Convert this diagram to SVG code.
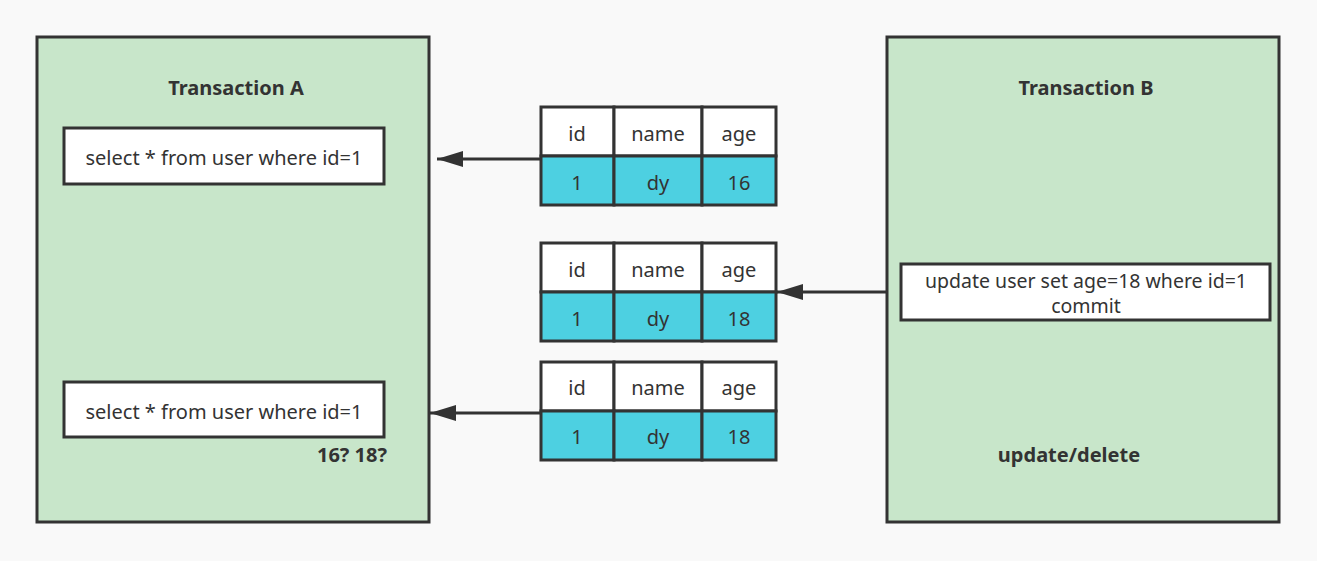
<svg xmlns="http://www.w3.org/2000/svg" width="1317" height="561" viewBox="0 0 1317 561">
<style>
.txn{fill:#c8e6ca;stroke:#333;stroke-width:3}
.box{fill:#fff;stroke:#333;stroke-width:3}
.hd{fill:#fff;stroke:#333;stroke-width:3}
.dt{fill:#4dd0e1;stroke:#333;stroke-width:3}
text{font-family:"Noto Sans","Open Sans",sans-serif;font-size:20px;fill:#333;text-anchor:middle;dominant-baseline:central}
.b{font-weight:bold}
.s{font-size:19.5px}
.conn{stroke:#333;stroke-width:3;fill:none}
</style>
<defs>
<marker id="ah" viewBox="0 0 26 16" refX="26" refY="8" markerWidth="26" markerHeight="16" markerUnits="userSpaceOnUse" orient="auto">
<path d="M0,0 L26,8 L0,16 Z" fill="#333"/>
</marker>
</defs>
<rect width="1317" height="561" fill="#f9f9f9"/>
<g id="txnA">
<rect class="txn" x="37" y="37" width="392" height="485"/>
<text class="b" x="236" y="87">Transaction A</text>
<rect class="box" x="64" y="128" width="320" height="56"/>
<text x="224" y="157">select * from user where id=1</text>
<rect class="box" x="64" y="382" width="320" height="55"/>
<text x="224" y="411">select * from user where id=1</text>
<text class="b" x="352" y="454">16? 18?</text>
</g>
<g id="txnB">
<rect class="txn" x="887" y="37" width="392" height="485"/>
<text class="b" x="1086" y="87">Transaction B</text>
<rect class="box" x="901" y="264" width="369" height="56"/>
<text class="s" x="1086" y="280">update user set age=18 where id=1</text>
<text class="s" x="1086" y="305">commit</text>
<text class="b" x="1069" y="454">update/delete</text>
</g>
<g id="table1">
<rect class="hd" x="541" y="107" width="73" height="49"/>
<rect class="hd" x="614" y="107" width="88" height="49"/>
<rect class="hd" x="702" y="107" width="74" height="49"/>
<rect class="dt" x="541" y="156" width="73" height="49"/>
<rect class="dt" x="614" y="156" width="88" height="49"/>
<rect class="dt" x="702" y="156" width="74" height="49"/>
<text x="577" y="133">id</text><text x="658" y="133">name</text><text x="739" y="133">age</text>
<text x="577" y="182">1</text><text x="658" y="182">dy</text><text x="739" y="182">16</text>
</g>
<g id="table2">
<rect class="hd" x="541" y="243" width="73" height="49"/>
<rect class="hd" x="614" y="243" width="88" height="49"/>
<rect class="hd" x="702" y="243" width="74" height="49"/>
<rect class="dt" x="541" y="292" width="73" height="49"/>
<rect class="dt" x="614" y="292" width="88" height="49"/>
<rect class="dt" x="702" y="292" width="74" height="49"/>
<text x="577" y="269">id</text><text x="658" y="269">name</text><text x="739" y="269">age</text>
<text x="577" y="318">1</text><text x="658" y="318">dy</text><text x="739" y="318">18</text>
</g>
<g id="table3">
<rect class="hd" x="541" y="362" width="73" height="49"/>
<rect class="hd" x="614" y="362" width="88" height="49"/>
<rect class="hd" x="702" y="362" width="74" height="49"/>
<rect class="dt" x="541" y="411" width="73" height="49"/>
<rect class="dt" x="614" y="411" width="88" height="49"/>
<rect class="dt" x="702" y="411" width="74" height="49"/>
<text x="577" y="387">id</text><text x="658" y="387">name</text><text x="739" y="387">age</text>
<text x="577" y="436">1</text><text x="658" y="436">dy</text><text x="739" y="436">18</text>
</g>
<g id="connectors">
<line class="conn" x1="541" y1="159" x2="437" y2="159" marker-end="url(#ah)"/>
<line class="conn" x1="887" y1="292" x2="777" y2="292" marker-end="url(#ah)"/>
<line class="conn" x1="541" y1="413" x2="430" y2="413" marker-end="url(#ah)"/>
</g>
</svg>
